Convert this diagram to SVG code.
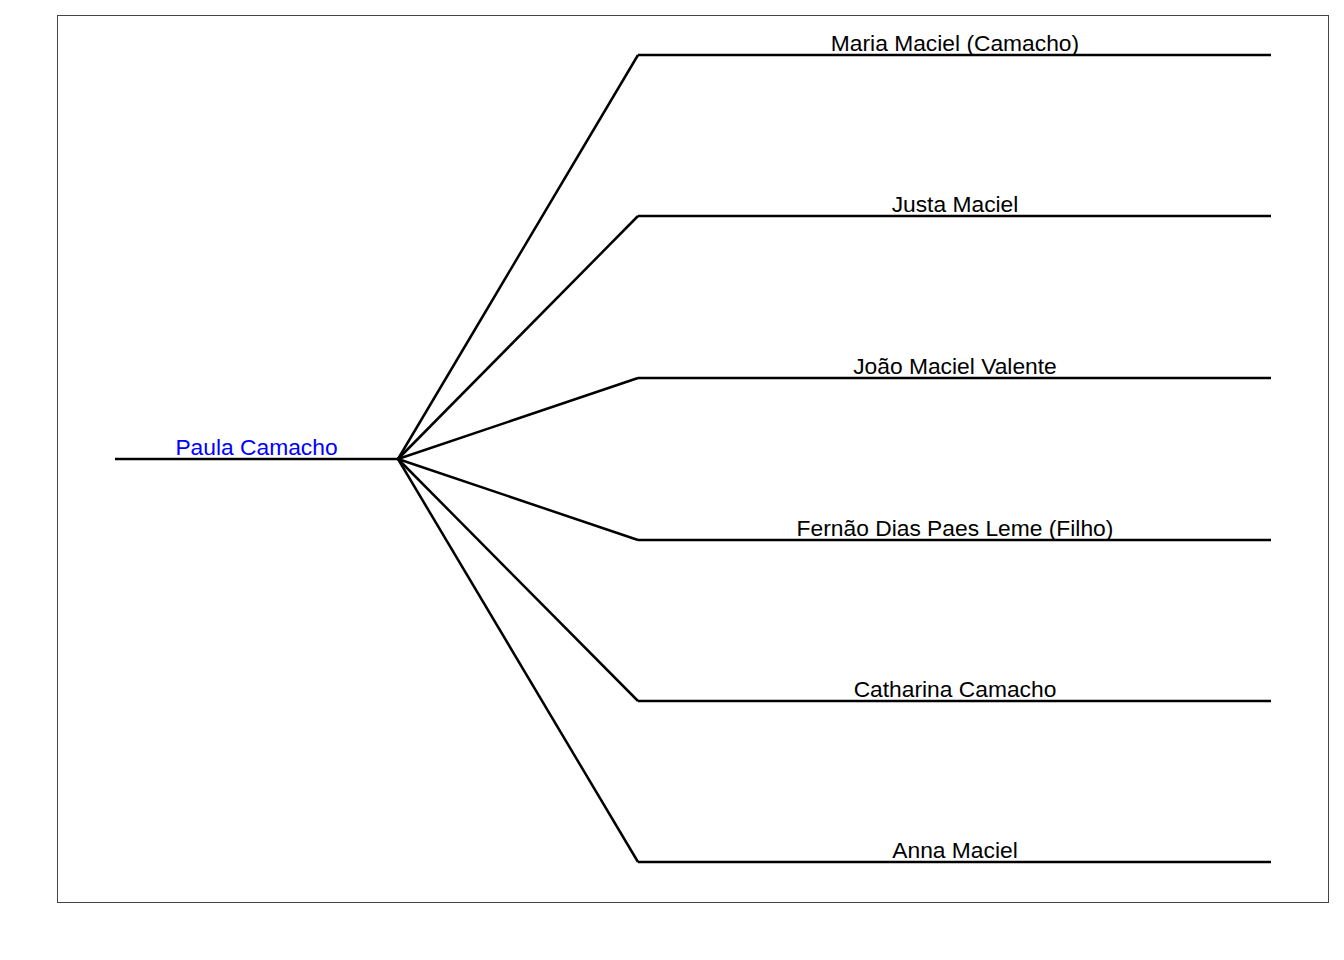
<svg xmlns="http://www.w3.org/2000/svg" width="1344" height="960" viewBox="0 0 1344 960">
<style>
.ln{stroke:#000;stroke-width:2.5;fill:none;stroke-linecap:butt}
.t{font-family:"Liberation Sans",Arial,sans-serif;font-size:22.8px;text-anchor:middle;fill:#000}
.root{fill:#0000ff}
</style>
<rect width="1344" height="960" fill="#fff"/>
<rect x="57.5" y="15.5" width="1271" height="887" fill="none" stroke="#444" stroke-width="1"/>
<g id="connectors">
<path class="ln" d="M398,459 L638,55"/>
<path class="ln" d="M398,459 L638,216"/>
<path class="ln" d="M398,459 L638,378"/>
<path class="ln" d="M398,459 L638,540"/>
<path class="ln" d="M398,459 L638,701"/>
<path class="ln" d="M398,459 L638,862"/>
</g>
<g id="node-root">
<path class="ln" d="M115,459 H398"/>
<text class="t root" x="256.5" y="455">Paula Camacho</text>
</g>
<g id="node-1">
<path class="ln" d="M638,55 H1271"/>
<text class="t" x="955" y="51">Maria Maciel (Camacho)</text>
</g>
<g id="node-2">
<path class="ln" d="M638,216 H1271"/>
<text class="t" x="955" y="212">Justa Maciel</text>
</g>
<g id="node-3">
<path class="ln" d="M638,378 H1271"/>
<text class="t" x="955" y="374">João Maciel Valente</text>
</g>
<g id="node-4">
<path class="ln" d="M638,540 H1271"/>
<text class="t" x="955" y="536">Fernão Dias Paes Leme (Filho)</text>
</g>
<g id="node-5">
<path class="ln" d="M638,701 H1271"/>
<text class="t" x="955" y="697">Catharina Camacho</text>
</g>
<g id="node-6">
<path class="ln" d="M638,862 H1271"/>
<text class="t" x="955" y="858">Anna Maciel</text>
</g>
</svg>
